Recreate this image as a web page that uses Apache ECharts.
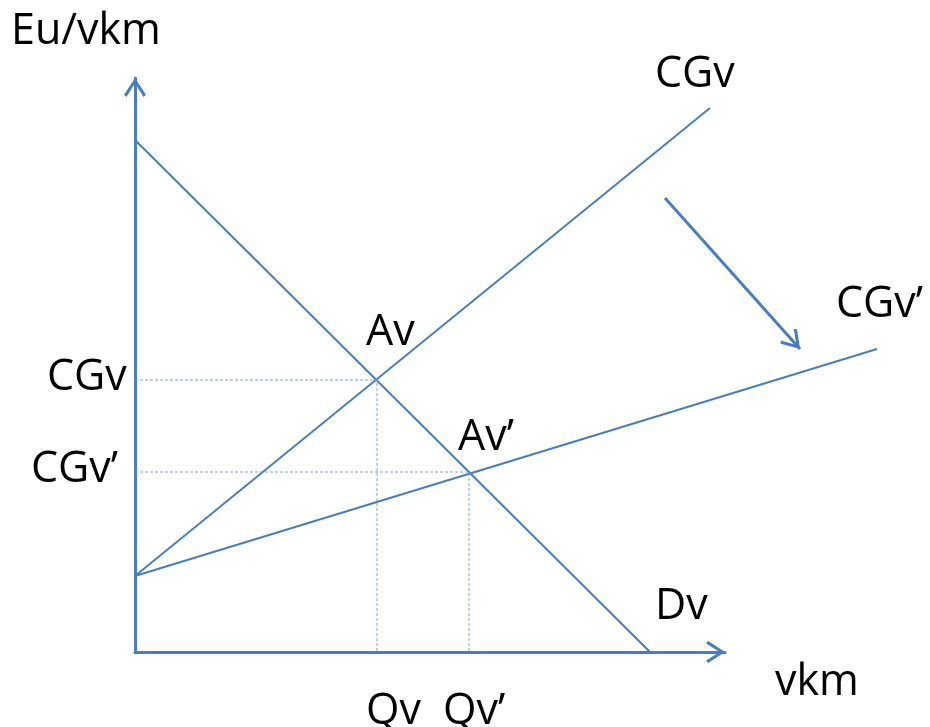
<!DOCTYPE html>
<html>
<head>
<meta charset="utf-8">
<script src="https://cdn.jsdelivr.net/npm/echarts@6/dist/echarts.min.js"></script>
<style>
html,body{margin:0;padding:0;background:#fff;}
#chart{width:930px;height:727px;}
</style>
</head>
<body>
<div id="chart"></div>
<script>
// ---- data (chart units) ----
var demandX = [0, 51.5];
var demandY = [51.2, 0];
var cgvX = [0, 57.5];
var cgvY = [7.6, 54.4];
var cgv2X = [0, 74.2];
var cgv2Y = [7.6, 30.3];
var avPoint = [24.2, 27.2];     // Av: intersection of Dv and CGv
var av2Point = [33.4, 18.0];    // Av': intersection of Dv and CGv'
var shiftFrom = [53.0, 45.4];   // arrow showing the shift CGv -> CGv'
var shiftTo = [66.5, 30.3];
var xMax = 59, yMax = 57.4;

var BLUE = '#4a7ebb';
var GUIDE = '#7fa5d8';
// open chevron arrowhead (tip at centre of a square box)
var CHEVRON = 'path://M11,0 L22,17 L19.6,19.2 L11,5.5 L2.4,19.2 L0,17 Z M-8,-19 L-8,-19 Z M30,19 L30,19 Z';

function pairs(xs, ys) { return xs.map(function (x, i) { return [x, ys[i]]; }); }

var chart = echarts.init(document.getElementById('chart'), null, {renderer: 'canvas'});

var axisCommon = {
  type: 'value',
  min: 0,
  axisLabel: {show: false},
  axisTick: {show: false},
  splitLine: {show: false},
  axisLine: {
    show: true,
    symbol: ['none', CHEVRON],
    symbolSize: [38, 38],
    lineStyle: {color: BLUE, width: 3}
  }
};

function curve(name, xs, ys) {
  return {
    type: 'lines',
    name: name,
    coordinateSystem: 'cartesian2d',
    clip: false,
    silent: true,
    animation: false,
    lineStyle: {color: BLUE, width: 2, opacity: 1},
    data: [{coords: pairs(xs, ys)}]
  };
}

var guideCommon = {
  type: 'line',
  symbol: 'none',
  silent: true,
  animation: false,
  lineStyle: {color: GUIDE, width: 1, type: [3, 2]}
};

var FS = 43;
var font = FS + 'px "Open Sans"';
function label(text, x, baseline) {
  return {type: 'text', left: x, top: baseline - 32, silent: true,
    style: {text: text, font: font, fill: '#000'}};
}

chart.setOption({
  animation: false,
  grid: {left: 135, right: 205, top: 78, bottom: 75, containLabel: false},
  xAxis: Object.assign({}, axisCommon, {max: xMax}),
  yAxis: Object.assign({}, axisCommon, {max: yMax}),
  series: [
    Object.assign({}, guideCommon, {data: [[0, avPoint[1]], avPoint, [avPoint[0], 0]]}),
    Object.assign({}, guideCommon, {data: [[0, av2Point[1]], av2Point, [av2Point[0], 0]]}),
    curve('Dv', demandX, demandY),
    curve('CGv', cgvX, cgvY),
    curve('CGv’', cgv2X, cgv2Y),
    {
      type: 'lines',
      coordinateSystem: 'cartesian2d',
      clip: false,
      silent: true,
      animation: false,
      symbol: ['none', CHEVRON],
      symbolSize: 38,
      lineStyle: {color: BLUE, width: 3, opacity: 1},
      data: [{coords: [shiftFrom, shiftTo]}]
    }
  ],
  graphic: [
    label('Eu/vkm', 11, 42),
    label('CGv', 655, 85),
    label('CGv’', 836, 315),
    label('Av', 366, 343),
    label('Av’', 458, 448),
    label('CGv', 47, 388),
    label('CGv’', 31, 480),
    label('Dv', 655, 617),
    label('vkm', 775, 693),
    label('Qv', 366, 722),
    label('Qv’', 443, 722)
  ]
});
</script>
</body>
</html>
